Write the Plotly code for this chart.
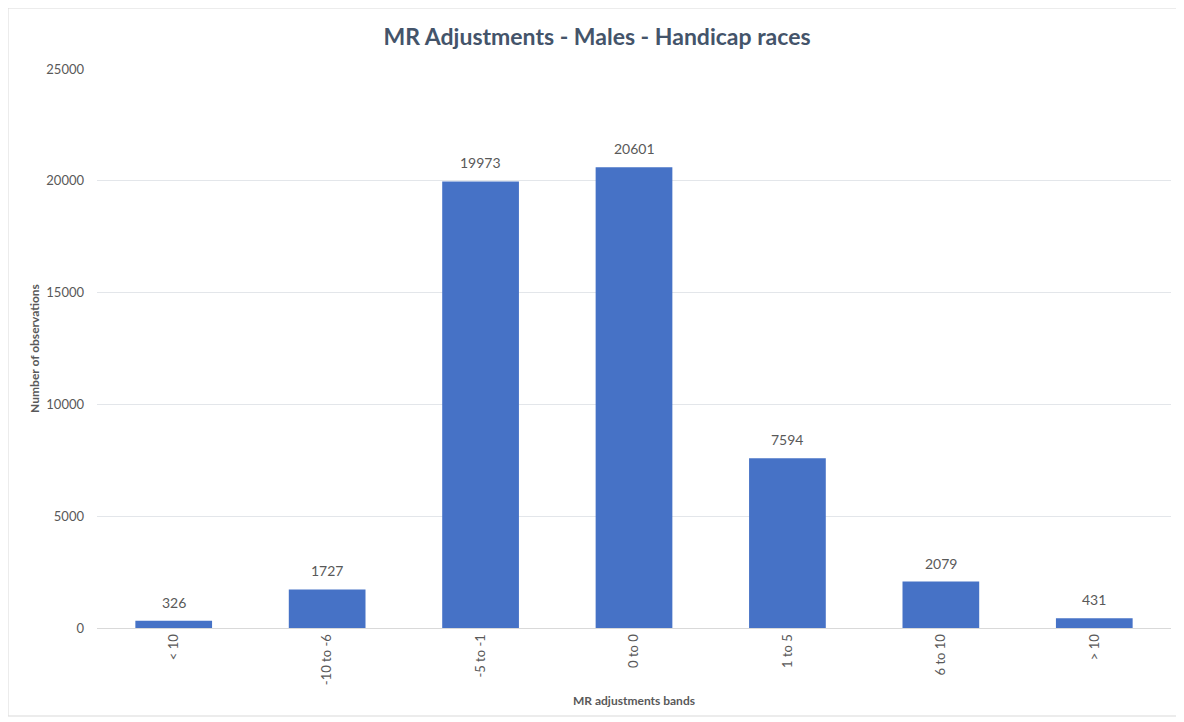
import plotly.graph_objects as go

categories = ["< 10", "-10 to -6", "-5 to -1", "0 to 0", "1 to 5", "6 to 10", "> 10"]
values = [326, 1727, 19973, 20601, 7594, 2079, 431]
y_ticks = [0, 5000, 10000, 15000, 20000, 25000]

W, H = 1176, 714
L, R, T, B = 89, 13, 61, 94
pw, ph = W - L - R, H - T - B

fig = go.Figure()
fig.add_trace(go.Bar(
    x=categories, y=values,
    marker=dict(color="#4672C6", line=dict(width=0)),
))
for c, v in zip(categories, values):
    fig.add_annotation(x=c, y=v, text=str(v), showarrow=False, yanchor="bottom", yshift=8,
                       font=dict(family="Lato", size=14, color="#595959"))

fig.update_layout(
    width=W, height=H,
    margin=dict(l=L, r=R, t=T, b=B),
    paper_bgcolor="white", plot_bgcolor="white",
    bargap=0.5,
    showlegend=False,
    title=dict(text="<b>MR Adjustments - Males - Handicap races</b>", x=(597 - 8) / W, xanchor="center",
               y=1 - 29 / H, yanchor="middle",
               font=dict(family="Lato", size=23, color="#44546A")),
    font=dict(family="Lato", color="#595959"),
)
fig.update_xaxes(
    tickangle=-90, tickfont=dict(size=13, color="#595959"),
    showline=True, linecolor="#D9D9D9", linewidth=1, ticks="",
    title=dict(text="<b>MR adjustments bands</b>", font=dict(size=12, color="#595959"), standoff=12),
)
fig.update_yaxes(
    range=[0, 25000], tickvals=y_ticks, ticktext=[str(t) for t in y_ticks],
    tickfont=dict(size=13, color="#595959"), showgrid=True, gridcolor="#E3E6EA", gridwidth=1,
    zeroline=False, ticks="", ticklabelstandoff=12,
    title=dict(text="<b>Number of observations</b>", font=dict(size=12, color="#595959"), standoff=4),
)
fig.add_shape(type="rect", xref="paper", yref="paper",
              x0=-(L - 0) / pw, x1=1 + (R - 6) / pw, y0=-(B - 6) / ph, y1=1 + (T - 0) / ph,
              line=dict(color="#D9D9D9", width=1), layer="below")
fig.write_html("out.html")
